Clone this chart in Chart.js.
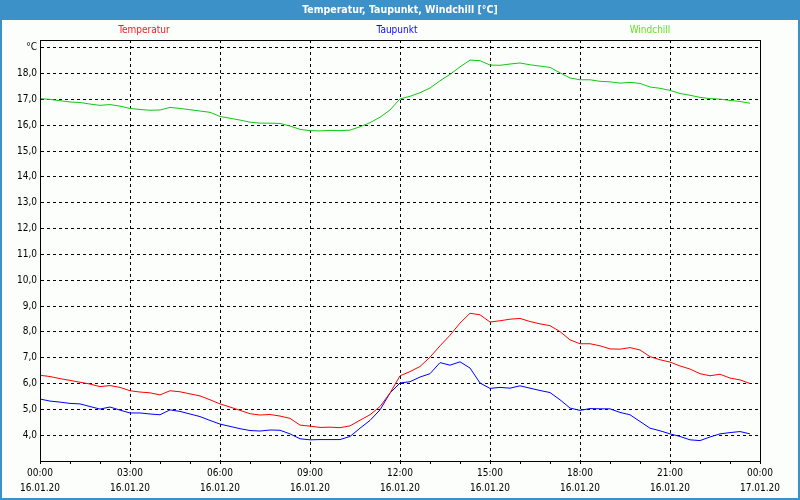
<!DOCTYPE html>
<html><head><meta charset="utf-8">
<script src="https://cdn.jsdelivr.net/npm/chart.js@4.4.1/dist/chart.umd.min.js"></script>
<style>html,body{margin:0;padding:0;background:#fff;}canvas{display:block;}</style>
</head><body>
<canvas id="c" width="800" height="500"></canvas>
<script>
const chartTitle = 'Temperatur, Taupunkt, Windchill [°C]';
const seriesNames = ['Temperatur', 'Taupunkt', 'Windchill'];
const times = ['00:00','00:20','00:40','01:00','01:20','01:40','02:00','02:20','02:40','03:00','03:20','03:40',
 '04:00','04:20','04:40','05:00','05:20','05:40','06:00','06:20','06:40','07:00','07:20','07:40',
 '08:00','08:20','08:40','09:00','09:20','09:40','10:00','10:20','10:40','11:00','11:20','11:40',
 '12:00','12:20','12:40','13:00','13:20','13:40','14:00','14:20','14:40','15:00','15:20','15:40',
 '16:00','16:20','16:40','17:00','17:20','17:40','18:00','18:20','18:40','19:00','19:20','19:40',
 '20:00','20:20','20:40','21:00','21:20','21:40','22:00','22:20','22:40','23:00','23:20','23:40'];
const temperatur = [6.32,6.27,6.19,6.12,6.05,5.98,5.88,5.92,5.85,5.72,5.67,5.64,5.56,5.72,5.68,5.60,5.52,5.37,5.21,5.09,4.96,4.83,4.78,4.80,4.74,
 4.65,4.39,4.35,4.30,4.31,4.29,4.36,4.58,4.79,5.11,5.63,6.30,6.46,6.66,7.02,7.46,7.87,8.34,8.72,8.66,8.38,8.43,8.49,
 8.52,8.40,8.31,8.24,8.01,7.69,7.54,7.54,7.46,7.34,7.33,7.39,7.30,7.04,6.92,6.83,6.68,6.56,6.38,6.30,6.36,6.21,6.14,6.00];
const taupunkt = [5.40,5.32,5.28,5.23,5.21,5.11,5.01,5.09,4.97,4.86,4.86,4.82,4.79,4.98,4.92,4.82,4.72,4.57,4.43,4.34,4.25,4.18,4.16,4.20,4.19,
 4.05,3.86,3.82,3.83,3.83,3.83,3.95,4.27,4.57,4.98,5.63,6.02,6.07,6.25,6.38,6.81,6.71,6.84,6.60,6.02,5.81,5.85,5.82,
 5.91,5.82,5.73,5.65,5.37,5.05,4.96,5.03,5.02,5.02,4.88,4.79,4.53,4.27,4.17,4.05,3.95,3.82,3.79,3.93,4.05,4.10,4.14,4.05];
const windchill = [17.03,17.00,16.95,16.90,16.88,16.82,16.77,16.80,16.74,16.65,16.61,16.58,16.59,16.69,16.65,16.60,16.55,16.50,16.34,16.27,16.20,16.12,16.08,16.08,16.07,15.97,15.84,15.79,15.78,15.80,15.79,15.81,15.94,16.10,16.31,16.59,17.02,
 17.12,17.26,17.44,17.72,17.97,18.26,18.52,18.50,18.33,18.32,18.37,18.41,18.34,18.29,18.24,18.03,17.83,17.76,17.76,17.70,17.68,17.63,17.66,17.62,17.48,17.43,17.35,17.23,17.16,17.08,17.03,17.01,16.96,16.92,16.85];
const xTickTimes = ['00:00','03:00','06:00','09:00','12:00','15:00','18:00','21:00','00:00'];
const xTickDates = ['16.01.20','16.01.20','16.01.20','16.01.20','16.01.20','16.01.20','16.01.20','16.01.20','17.01.20'];
const yTickValues = [3,4,5,6,7,8,9,10,11,12,13,14,15,16,17,18,19];
const yUnitLabel = '°C';

const FONT = '"DejaVu Sans Condensed", "DejaVu Sans", sans-serif';
const toMin = s => { const p = s.split(':'); return (+p[0]) * 60 + (+p[1]); };
const lineColors = ['#ff0000', '#0000ff', '#11c811'];
const legendColors = ['#ff1a1a', '#0a0aff', '#5ee61e'];
const legendCenters = [144, 397, 650];

const framePlugin = {
  id: 'frame',
  beforeDraw(chart) {
    const ctx = chart.ctx, W = chart.width, H = chart.height;
    ctx.save();
    ctx.fillStyle = '#fcfefc';
    ctx.fillRect(0, 0, W, H);
    ctx.fillStyle = '#3c91c8';
    ctx.fillRect(0, 0, W, 20);
    ctx.fillRect(0, 0, 2, H);
    ctx.fillRect(W - 2, 0, 2, H);
    ctx.fillRect(0, H - 2, W, 2);
    ctx.fillStyle = '#ffffff';
    ctx.font = 'bold 10.5px ' + FONT;
    ctx.textAlign = 'center';
    ctx.textBaseline = 'middle';
    ctx.fillText(chartTitle, W / 2, 10);
    ctx.font = '10px ' + FONT;
    chart.data.datasets.forEach((ds, i) => {
      ctx.fillStyle = legendColors[i];
      ctx.fillText(ds.label, legendCenters[i], 30);
    });
    ctx.restore();
  },
  afterDraw(chart) {
    const ctx = chart.ctx, a = chart.chartArea;
    ctx.save();
    ctx.strokeStyle = '#000';
    ctx.lineWidth = 1;
    ctx.strokeRect(Math.round(a.left) + 0.5, Math.round(a.top) + 0.5, Math.round(a.right - a.left), Math.round(a.bottom - a.top));
    ctx.restore();
  }
};

const mk = (arr, i) => ({
  label: seriesNames[i],
  data: arr.map((v, k) => ({ x: toMin(times[k]), y: v })),
  borderColor: lineColors[i],
  borderWidth: 1,
  pointRadius: 0,
  tension: 0,
  fill: false
});

new Chart(document.getElementById('c'), {
  type: 'line',
  data: { datasets: [mk(temperatur, 0), mk(taupunkt, 1), mk(windchill, 2)] },
  plugins: [framePlugin],
  options: {
    responsive: false,
    animation: false,
    devicePixelRatio: 1,
    layout: { padding: { top: 40, right: 40, bottom: 0, left: 0 } },
    plugins: { legend: { display: false }, title: { display: false }, tooltip: { enabled: false } },
    scales: {
      x: {
        type: 'linear', min: 0, max: 1440,
        afterFit(s) { s.height = 39; },
        afterBuildTicks(s) { const t = []; for (let m = 0; m <= 1440; m += 60) t.push({ value: m }); s.ticks = t; },
        ticks: {
          autoSkip: false, maxRotation: 0, padding: 2, color: '#000',
          font: { family: FONT, size: 10, lineHeight: '15px' },
          callback(v) { if (v % 180 !== 0) return ''; const k = v / 180; return [xTickTimes[k], xTickDates[k]]; }
        },
        grid: {
          drawTicks: true, tickLength: 3, tickColor: '#000', tickWidth: 1, tickBorderDash: [],
          lineWidth: 1,
          color: c => (c.tick && c.tick.value % 180 === 0 && c.tick.value > 0 && c.tick.value < 1440) ? '#000' : 'rgba(0,0,0,0)'
        },
        border: { display: true, color: '#000', width: 1, dash: [3, 3] }
      },
      y: {
        type: 'linear', min: 3, max: 19.3,
        afterFit(s) { s.width = 40; },
        afterBuildTicks(s) { s.ticks = yTickValues.map(v => ({ value: v })); },
        ticks: {
          autoSkip: false, padding: 3, color: '#000',
          font: { family: FONT, size: 10 },
          callback(v) { if (v === 19) return yUnitLabel; if (v === 3) return ''; return v.toFixed(1).replace('.', ','); }
        },
        grid: {
          drawTicks: false, lineWidth: 1,
          color: c => (c.tick && c.tick.value > 3) ? '#000' : 'rgba(0,0,0,0)'
        },
        border: { display: true, color: '#000', width: 1, dash: [3, 3] }
      }
    }
  }
});
</script>
</body></html>
